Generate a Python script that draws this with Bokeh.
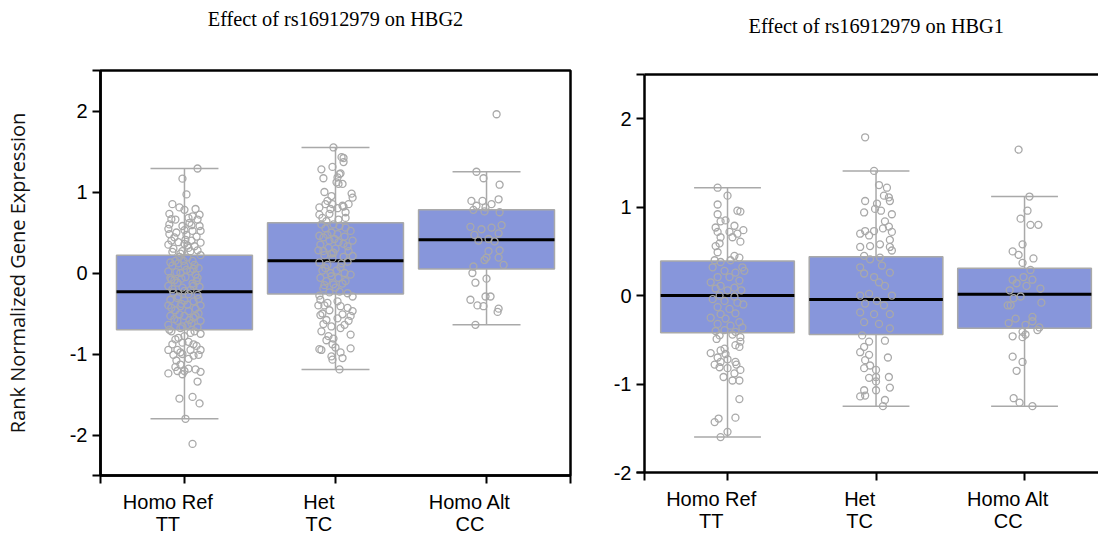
from bokeh.plotting import figure
from bokeh.layouts import row
from bokeh.models import Range1d, FixedTicker, LinearAxis, Title
from bokeh.embed import file_html
from bokeh.resources import INLINE

# ---------------- data ----------------
categories = ["Homo Ref\nTT", "Het\nTC", "Homo Alt\nCC"]
positions = [0, 1, 2]
y_tick_values = [-2, -1, 0, 1, 2]

# HBG2 (left panel) box statistics
hbg2_q1 = [-0.70, -0.26, 0.05]
hbg2_median = [-0.23, 0.15, 0.41]
hbg2_q3 = [0.22, 0.62, 0.78]
hbg2_lower = [-1.80, -1.19, -0.64]
hbg2_upper = [1.29, 1.55, 1.25]

# HBG1 (right panel) box statistics
hbg1_q1 = [-0.42, -0.44, -0.37]
hbg1_median = [0.00, -0.045, 0.015]
hbg1_q3 = [0.39, 0.44, 0.31]
hbg1_lower = [-1.60, -1.25, -1.25]
hbg1_upper = [1.22, 1.41, 1.12]

# individual samples: (horizontal jitter, value); jitter in 1/150 of a category
hbg2_TT = [(13,1.29),(-2,1.165),(2,0.97),(-12,0.85),(-5,0.81),(0,0.78),(11,0.79),(-15,0.73),(15,0.72),
    (-13,0.665),(4,0.68),(13,0.66),(-15,0.60),(-2,0.58),(7,0.59),(15,0.58),(-16,0.545),(0,0.53),(8,0.52),
    (16,0.52),(2,0.47),(-13,0.40),(1,0.41),(16,0.375),(-16,0.35),(0,0.36),(4,0.31),(-2,0.27),(6,0.27),
    (-4,0.24),(16,0.22),(3,0.19),(-9,0.15),(8,0.15),(-12,0.09),(0,0.09),(14,0.06),(-16,0.02),(-4,0.00),
    (6,0.02),(-14,-0.06),(1,-0.05),(13,-0.06),(-7,-0.12),(8,-0.13),(-16,-0.16),(-2,-0.18),(15,-0.17),
    (-11,-0.24),(4,-0.26),(13,-0.27),(-14,-0.33),(0,-0.34),(9,-0.35),(-16,-0.40),(-4,-0.41),(16,-0.40),
    (-9,-0.46),(4,-0.47),(14,-0.50),(-14,-0.53),(0,-0.53),(9,-0.55),(-7,-0.59),(16,-0.59),(-16,-0.64),
    (3,-0.64),(13,-0.67),(-4,-0.68),(-13,-0.72),(6,-0.74),(16,-0.75),(0,-0.78),(-9,-0.82),(-2,-0.86),
    (9,-0.88),(-16,-0.95),(-7,-0.95),(6,-0.95),(16,-0.95),(-11,-1.01),(-2,-1.00),(14,-1.01),(-8,-1.08),
    (4,-1.06),(-4,-1.13),(0,-1.21),(-16,-1.24),(-7,-1.21),(11,-1.19),(16,-1.22),(-2,-1.25),(13,-1.34),
    (-5,-1.55),(8,-1.53),(15,-1.61),(1,-1.80),(8,-2.11),
    (-10,0.44),(10,0.33),(-6,0.12),(11,-0.02),(-10,-0.09),(6,-0.21),(-6,-0.29),(11,-0.44),(-12,0.26),
    (9,0.05),(-3,-0.38),(7,-0.62),(-8,0.50),(5,0.62),
    (-15,0.48),(12,0.45),(-6,0.38),(3,0.34),(-11,0.30),(13,0.28),(-5,0.20),(10,0.10),(-14,0.13),
    (2,0.04),(-8,0.01),(12,-0.10),(-3,-0.07),(-12,-0.20),(9,-0.16),(0,-0.22),(-7,-0.31),(14,-0.32),
    (-13,-0.43),(3,-0.39),(-5,-0.51),(11,-0.53),(-10,-0.57),(5,-0.58),(-2,-0.66),(-15,-0.70),(10,-0.72),
    (-6,-0.80),(4,-0.85),(-12,-0.88),(12,-0.90),(-4,-0.98),(9,-1.02),(-9,-1.16),(4,-1.18),(-13,-0.08),
    (7,0.40),(-1,0.15),(-9,0.66),(8,0.70)]
hbg2_TC = [(6,1.43),(-14,1.28),(-3,1.31),(4,1.22),(-12,1.17),(1,1.12),(3,1.10),(-16,0.81),(-8,0.89),
    (-3,0.85),(7,0.83),(-6,0.73),(-17,0.28),(-6,0.40),(-16,0.46),(-17,-0.40),(-11,-0.40),(-15,-0.52),
    (-9,-0.58),(-14,-0.72),(-7,-0.78),(-9,-0.83),(-3,-0.88),(-16,-0.94),(-14,-0.95),(-4,-1.03),(-3,-1.07),
    (7,-1.05),(4,-1.19),(-2,1.55),(8,1.42),(8,1.37),(5,1.23),(2,1.18),(7,1.10),(16,0.98),(17,0.93),
    (13,0.85),(8,0.82),(2,0.80),(10,0.75),(15,0.52),(10,0.56),(2,0.48),(17,0.40),(8,0.36),(13,0.27),
    (-2,0.25),(17,0.21),(5,0.07),(15,-0.02),(10,-0.10),(0,-0.18),(17,-0.29),(2,-0.35),(12,-0.43),
    (17,-0.47),(7,-0.51),(13,-0.59),(15,-0.53),(5,-0.68),(15,-0.76),(-2,-0.81),(15,-0.93),
    (-14,0.60),(-10,0.55),(-4,0.50),(-12,0.44),(-1,0.42),(-15,0.35),(-7,0.31),(-11,0.22),(-3,0.18),
    (-16,0.13),(-8,0.10),(-13,0.03),(-5,0.00),(-15,-0.06),(-9,-0.10),(-2,-0.14),(-12,-0.19),(-6,-0.24),
    (-16,-0.28),(4,0.58),(0,0.30),(6,0.12),(3,-0.06),(-13,0.68),(-9,0.64),(-16,0.72),(-4,0.95),
    (-11,1.00),(-15,-0.33),(-6,-0.46),(-12,-0.63),(-4,-0.66),(0,-0.92),(5,-0.98),
    (-10,0.85),(-5,0.79),(10,0.68),(3,0.66),(-2,0.60),(9,0.45),(-8,0.47),(3,0.38),(12,0.33),(-12,0.27),
    (-4,0.24),(8,0.20),(12,0.14),(-10,0.06),(1,0.03),(9,0.00),(-4,-0.04),(7,-0.13),(-11,-0.15),(4,-0.23),
    (12,-0.25),(-8,-0.37),(5,-0.41),(-13,-0.50),(2,-0.56),(9,-0.64)]
hbg2_CC = [(10,1.96),(-10,1.25),(-3,1.17),(13,1.09),(-15,0.89),(-4,0.89),(12,0.91),(-10,0.83),(-13,0.78),
    (-1,0.81),(5,0.85),(-2,0.76),(13,0.75),(-16,0.57),(-5,0.54),(5,0.56),(15,0.59),(-12,0.47),(12,0.49),
    (-8,0.40),(2,0.42),(8,0.39),(13,0.28),(2,0.27),(0,0.19),(-2,0.16),(12,0.19),(17,0.10),(-13,0.08),
    (-14,0.00),(0,-0.07),(-11,-0.12),(-1,-0.29),(4,-0.29),(-16,-0.33),(-9,-0.40),(-3,-0.41),(12,-0.44),
    (11,-0.48),(-11,-0.64)]

hbg1_TT = [(-10,1.22),(0,1.13),(-10,1.03),(-10,0.92),(10,0.96),(13,0.95),(-7,0.84),(-2,0.85),(-12,0.77),
    (7,0.79),(16,0.74),(-10,0.72),(2,0.72),(10,0.70),(-7,0.66),(5,0.66),(13,0.61),(-12,0.56),(-8,0.59),
    (-10,0.49),(7,0.45),(12,0.43),(-13,0.40),(-7,0.38),(3,0.40),(15,0.32),(-15,0.32),(-3,0.28),(8,0.26),
    (17,0.28),(-10,0.21),(2,0.21),(-17,0.15),(12,0.17),(-7,0.11),(7,0.09),(-12,0.08),(0,0.06),(14,0.06),
    (-8,0.00),(7,-0.01),(-15,-0.04),(-3,-0.06),(10,-0.08),(16,-0.10),(-10,-0.13),(2,-0.15),(-7,-0.21),
    (8,-0.20),(-17,-0.25),(-2,-0.26),(12,-0.30),(-10,-0.32),(3,-0.34),(15,-0.36),(-12,-0.40),(-3,-0.39),
    (8,-0.41),(-8,-0.45),(5,-0.44),(13,-0.47),(-11,-0.49),(13,-0.52),(8,-0.56),(12,-0.58),(-3,-0.60),
    (-7,-0.62),(-17,-0.65),(-2,-0.66),(-10,-0.70),(0,-0.72),(-7,-0.75),(-13,-0.78),(-8,-0.81),(8,-0.75),
    (9,-0.78),(0,-0.82),(13,-0.84),(7,-0.88),(-4,-0.92),(5,-0.96),(12,-0.96),(12,-1.17),(-9,-1.39),
    (-13,-1.43),(8,-1.38),(0,-1.54),(-7,-1.60)]
hbg1_TC = [(-11,1.79),(-2,1.41),(3,1.25),(11,1.22),(8,1.13),(13,1.11),(14,1.07),(-11,1.07),(1,1.04),
    (-12,0.94),(-1,0.98),(5,0.96),(16,0.92),(9,0.84),(13,0.78),(7,0.76),(16,0.72),(-11,0.73),(-16,0.70),
    (-7,0.68),(-2,0.73),(14,0.63),(4,0.58),(-16,0.55),(-6,0.56),(14,0.55),(16,0.51),(-12,0.45),(4,0.43),
    (-6,0.41),(-16,0.32),(6,0.34),(14,0.26),(-12,0.25),(-2,0.21),(3,0.15),(9,0.11),(-16,0.00),(-7,0.02),
    (1,-0.06),(16,0.00),(-11,-0.09),(8,-0.11),(-16,-0.19),(-2,-0.21),(14,-0.21),(-12,-0.30),(3,-0.32),
    (14,-0.37),(-14,-0.45),(9,-0.51),(-7,-0.52),(-12,-0.58),(-16,-0.64),(-7,-0.67),(12,-0.70),(-11,-0.73),
    (-12,-0.82),(0,-0.84),(-6,-0.79),(0,-0.92),(13,-0.92),(-7,-0.93),(14,-1.04),(0,-0.97),(-12,-1.07),
    (0,-1.07),(-11,-1.13),(-16,-1.14),(9,-1.18),(7,-1.25)]
hbg1_CC = [(-6,1.65),(5,1.12),(3,0.96),(-4,0.87),(6,0.80),(14,0.80),(-2,0.58),(-12,0.50),(-6,0.46),
    (9,0.42),(-2,0.37),(6,0.29),(-12,0.18),(-1,0.21),(8,0.18),(-8,0.14),(2,0.11),(16,0.08),(-15,0.06),
    (-11,-0.03),(-4,-0.01),(17,-0.08),(-17,-0.11),(-14,-0.11),(8,-0.24),(-9,-0.26),(1,-0.33),(-16,-0.31),
    (8,-0.29),(15,-0.36),(13,-0.39),(-2,-0.41),(1,-0.44),(-12,-0.46),(-2,-0.47),(-12,-0.69),(-2,-0.75),
    (-8,-0.85),(-11,-1.16),(-5,-1.21),(8,-1.25)]

titles = ["Effect of rs16912979 on HBG2", "Effect of rs16912979 on HBG1"]
y_label = "Rank Normalized Gene Expression"

# ---------------- style ----------------
BOX_FILL = "#8796db"
GREY = "#a9a9a9"
TICK_FONT = "Liberation Sans"
TITLE_FONT = "Liberation Serif"
TITLE_SIZE = "20.3px"
BOX_W = 0.9
CAP_W = 0.45
LABEL_SHIFT = -0.11   # category labels sit slightly left of their ticks in the original


def style_axis(ax):
    ax.axis_line_color = "black"
    ax.axis_line_width = 2.5
    ax.major_tick_line_color = "black"
    ax.major_tick_line_width = 2
    ax.major_tick_out = 8
    ax.major_tick_in = 0
    ax.minor_tick_line_color = "black"
    ax.minor_tick_line_width = 2
    ax.minor_tick_out = 8
    ax.minor_tick_in = 0
    ax.major_label_text_font = TICK_FONT
    ax.major_label_text_font_size = "20px"
    ax.major_label_text_color = "black"


def panel(title, q1, med, q3, lo, hi, groups, x_start, x_end, y_start, y_end,
          width, height, mb_left, mb_right, mb_top, mb_bottom, spacer_standoff,
          title_align, title_offset, show_ylabel, right_frame):
    p = figure(width=width, height=height, output_backend="svg", toolbar_location=None,
               x_range=Range1d(x_start, x_end), y_range=Range1d(y_start, y_end),
               min_border_left=mb_left, min_border_right=mb_right,
               min_border_top=mb_top, min_border_bottom=mb_bottom)
    p.frame_align = False
    p.xgrid.visible = False
    p.ygrid.visible = False
    p.background_fill_color = "white"
    p.border_fill_color = "white"

    xs = positions
    # whiskers
    p.segment(x0=xs, x1=xs, y0=lo, y1=hi, line_color=GREY, line_width=1.5)
    p.segment(x0=[x - CAP_W / 2 for x in xs], x1=[x + CAP_W / 2 for x in xs], y0=lo, y1=lo,
              line_color=GREY, line_width=1.5)
    p.segment(x0=[x - CAP_W / 2 for x in xs], x1=[x + CAP_W / 2 for x in xs], y0=hi, y1=hi,
              line_color=GREY, line_width=1.5)
    # boxes
    p.vbar(x=xs, width=BOX_W, bottom=q1, top=q3, fill_color=BOX_FILL, line_color=GREY, line_width=1.5)
    p.segment(x0=[x - BOX_W / 2 for x in xs], x1=[x + BOX_W / 2 for x in xs], y0=med, y1=med,
              line_color="black", line_width=3)
    # points
    for x, pts in zip(xs, groups):
        px = [x + j / 150.0 for j, v in pts]
        py = [v for j, v in pts]
        p.scatter(px, py, marker="circle", size=7, fill_color=None, line_color=GREY, line_width=1.3)

    # bottom axis: labels on (hidden) major ticks, tick marks drawn as minor ticks
    xax = p.below[0]
    yax = p.left[0]
    style_axis(xax)
    style_axis(yax)
    lab_ticks = [x + LABEL_SHIFT for x in xs]
    mark_ticks = [x_start] + xs + ([x_end] if right_frame else [])
    xax.ticker = FixedTicker(ticks=lab_ticks, minor_ticks=mark_ticks)
    xax.major_tick_line_color = None
    xax.major_label_overrides = {t: c for t, c in zip(lab_ticks, categories)}
    xax.major_label_text_line_height = 1.0
    xax.major_label_standoff = 7

    # left axis: value ticks + frame-end tick marks as minor ticks
    yax.ticker = FixedTicker(ticks=y_tick_values, minor_ticks=[y_start, y_end])
    yax.major_label_overrides = {v: str(v) for v in y_tick_values}
    yax.major_label_standoff = 5
    if show_ylabel:
        yax.axis_label = y_label
        yax.axis_label_text_font = "Open Sans"
        yax.axis_label_text_font_size = "20px"
        yax.axis_label_text_font_style = "normal"
        yax.axis_label_text_color = "#111111"
        yax.axis_label_standoff = 36

    if right_frame:
        p.outline_line_color = "black"
        p.outline_line_width = 2.5
        p.outline_line_alpha = 1
    else:
        p.outline_line_color = None
        top = LinearAxis(ticker=FixedTicker(ticks=[]),
                         major_tick_line_color=None, minor_tick_line_color=None,
                         axis_line_color="black", axis_line_width=2.5,
                         major_label_standoff=0, major_tick_out=0, major_tick_in=0,
                         minor_tick_out=0, minor_tick_in=0)
        p.add_layout(top, "above")

    # blank spacer between frame and title
    spacer = Title(text=" ", text_font=TITLE_FONT, text_font_size=TITLE_SIZE,
                   standoff=spacer_standoff, text_color="white")
    p.add_layout(spacer, "above")
    t = Title(text=title, text_font=TITLE_FONT, text_font_size=TITLE_SIZE,
              text_font_style="normal", align=title_align, standoff=10,
              offset=title_offset, text_color="black")
    p.add_layout(t, "above")
    return p


left = panel(titles[0], hbg2_q1, hbg2_median, hbg2_q3, hbg2_lower, hbg2_upper,
             [hbg2_TT, hbg2_TC, hbg2_CC], -0.556, 2.556, -2.5, 2.5,
             604, 538, 100, 34, 70, 63, 12, "center", 0, True, True)
right = panel(titles[1], hbg1_q1, hbg1_median, hbg1_q3, hbg1_lower, hbg1_upper,
              [hbg1_TT, hbg1_TC, hbg1_CC], -0.559, 2.498, -2.0, 2.5,
              494, 536, 40, 0, 74, 64, 9, "left", 104, False, False)

layout = row(left, right)
open("out.html", "w").write(file_html(layout, INLINE))
